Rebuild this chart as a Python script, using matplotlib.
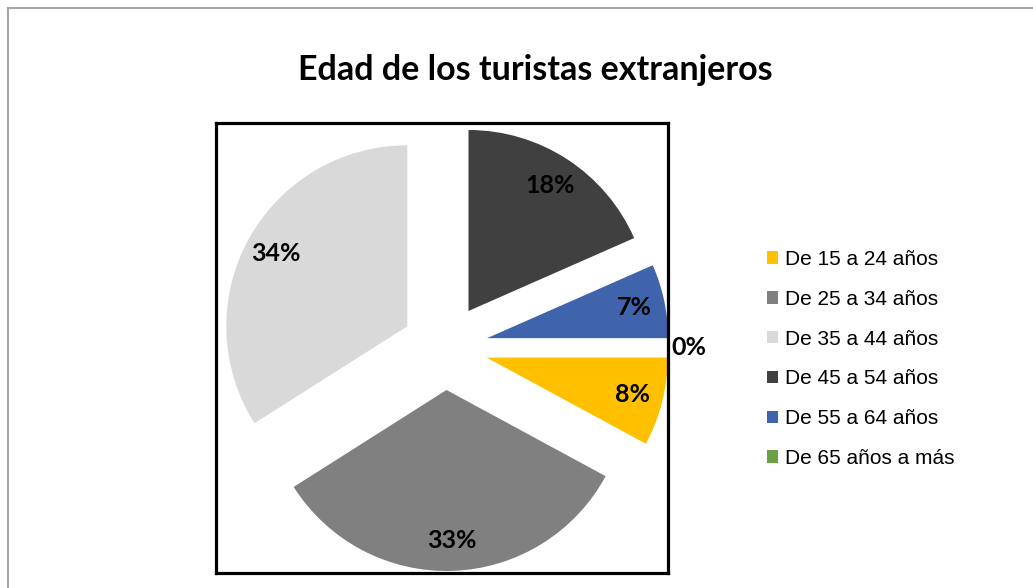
import matplotlib
matplotlib.use("Agg")
import matplotlib.pyplot as plt
from matplotlib.patches import Patch
from matplotlib.lines import Line2D
import numpy as np

title = "Edad de los turistas extranjeros"
categories = ["De 15 a 24 años", "De 25 a 34 años", "De 35 a 44 años",
              "De 45 a 54 años", "De 55 a 64 años", "De 65 años a más"]
values = [7.9, 33.1, 34.0, 18.4, 6.6, 0.0]
colors = ["#FFC000", "#808080", "#D9D9D9", "#404040", "#3F64AB", "#6A9F43"]

W, H = 1033, 588
fig = plt.figure(figsize=(W / 100, H / 100), dpi=100)

# outer chart border (only top and left visible)
fig.add_artist(Line2D([8 / W, 1], [1 - 8 / H, 1 - 8 / H], color="#A6A6A6", lw=1.5,
                      transform=fig.transFigure))
fig.add_artist(Line2D([8 / W, 8 / W], [0, 1 - 8 / H], color="#A6A6A6", lw=1.5,
                      transform=fig.transFigure))

# plot area in pixels
L, R_, T, B = 216, 668, 123, 573
cx, cy, rad = 445, 347, 181
ax = fig.add_axes([L / W, (H - B) / H, (R_ - L) / W, (B - T) / H])

explode = [43 / rad] * len(values)
wedges, texts, autotexts = ax.pie(
    values, colors=colors, explode=explode, startangle=0, counterclock=False,
    radius=1.0, autopct="%.0f%%", pctdistance=0.83,
    wedgeprops=dict(linewidth=0),
    textprops=dict(fontsize=18, fontweight="bold", family="Lato", color="black"))

# place the 0% label outside its (empty) wedge
for w, t, v in zip(wedges, autotexts, values):
    if v == 0:
        th = np.deg2rad(0.5 * (w.theta1 + w.theta2))
        x0, y0 = w.center
        t.set_position((x0 + 1.11 * np.cos(th), y0 + 1.11 * np.sin(th)))

ax.set_aspect("auto")
ax.set_xlim((L - cx) / rad, (R_ - cx) / rad)
ax.set_ylim((cy - B) / rad, (cy - T) / rad)
ax.set_frame_on(True)
for s in ax.spines.values():
    s.set_visible(True)
    s.set_linewidth(2.3)
    s.set_color("black")
ax.set_xticks([])
ax.set_yticks([])
for t in autotexts:
    t.set_clip_on(False)

fig.text(535 / W, 1 - 70 / H, title, ha="center", va="center",
         fontsize=24.5, fontweight="bold", family="Lato")

handles = [Patch(facecolor=c, edgecolor="none") for c in colors]
fig.legend(handles, categories, loc="center left",
           bbox_to_anchor=(767 / W, 1 - 359 / H), bbox_transform=fig.transFigure,
           frameon=False, borderpad=0, borderaxespad=0,
           handlelength=0.55, handleheight=0.55, handletextpad=0.3,
           labelspacing=1.0,
           prop=dict(family="Liberation Sans", size=15))

fig.savefig("out.png", dpi=100)
